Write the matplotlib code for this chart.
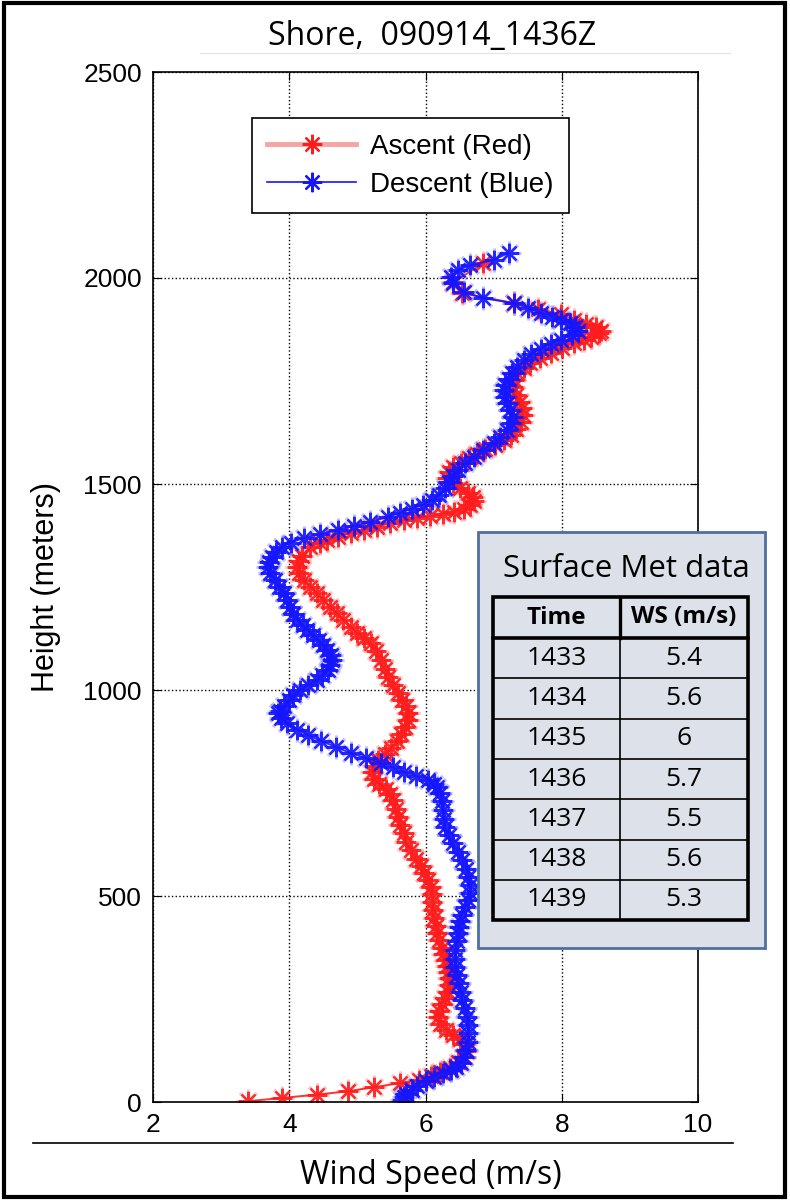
import matplotlib
matplotlib.use('Agg')
import matplotlib.pyplot as plt
from matplotlib.lines import Line2D
from matplotlib.patches import Rectangle

# ascent profile (red): wind speed m/s, height m
asc_ws = [3.40, 3.90, 4.41, 4.86, 5.25, 5.63, 5.90, 6.08, 6.22, 6.36, 6.48, 6.56, 6.60, 6.58, 6.50,
          6.40, 6.30, 6.22, 6.19, 6.20, 6.24, 6.28, 6.33, 6.35, 6.34, 6.33, 6.32, 6.30, 6.26, 6.24,
          6.20, 6.17, 6.15, 6.12, 6.11, 6.10, 6.10, 6.08, 6.04, 5.98, 5.93, 5.86, 5.78, 5.72, 5.68,
          5.63, 5.60, 5.56, 5.53, 5.48, 5.42, 5.32, 5.24, 5.22, 5.24, 5.30, 5.40, 5.50, 5.58, 5.64,
          5.70, 5.74, 5.75, 5.72, 5.66, 5.60, 5.52, 5.45, 5.40, 5.34, 5.28, 5.20, 5.10, 5.00, 4.90,
          4.79, 4.70, 4.60, 4.50, 4.41, 4.31, 4.21, 4.15, 4.12, 4.14, 4.18, 4.31, 4.45, 4.56, 4.72,
          4.90, 5.10, 5.29, 5.48, 5.68, 5.88, 6.07, 6.25, 6.42, 6.56, 6.66, 6.71, 6.69, 6.62, 6.51,
          6.40, 6.32, 6.34, 6.40, 6.52, 6.64, 6.75, 6.88, 7.02, 7.15, 7.25, 7.33, 7.40, 7.43, 7.42,
          7.38, 7.33, 7.29, 7.30, 7.35, 7.44, 7.54, 7.68, 7.84, 8.00, 8.18, 8.32, 8.43, 8.55, 8.57,
          8.50, 8.35, 8.18, 7.99, 7.65, 7.30, 6.54, 6.41, 6.85]
asc_h = [2, 10, 18, 26, 36, 46, 54, 62, 72, 83, 96, 110, 125, 140, 152,
         162, 175, 190, 206, 222, 238, 252, 268, 283, 300, 315, 330, 345, 360, 375,
         392, 410, 428, 447, 465, 485, 505, 522, 540, 556, 572, 590, 612, 632, 653,
         673, 692, 712, 733, 748, 760, 772, 784, 800, 815, 830, 845, 860, 876, 893,
         910, 927, 944, 960, 976, 992, 1012, 1032, 1052, 1073, 1094, 1114, 1126, 1138, 1154,
         1170, 1186, 1201, 1218, 1235, 1251, 1267, 1283, 1299, 1312, 1325, 1347, 1358, 1364, 1372,
         1381, 1389, 1396, 1405, 1413, 1418, 1422, 1428, 1433, 1440, 1448, 1458, 1468, 1478, 1490,
         1502, 1515, 1528, 1541, 1552, 1562, 1572, 1584, 1595, 1607, 1620, 1633, 1650, 1667, 1684,
         1700, 1717, 1735, 1752, 1769, 1782, 1794, 1806, 1818, 1830, 1842, 1850, 1857, 1866, 1872,
         1880, 1889, 1898, 1912, 1925, 1939, 1963, 1990, 2036]

# descent profile (blue), from the top down
des_ws = [7.22, 7.00, 6.66, 6.47, 6.37, 6.41, 6.56, 6.85, 7.30, 7.50, 7.69, 7.85, 7.99, 8.12, 8.20,
          8.24, 8.15, 7.99, 7.84, 7.69, 7.55, 7.45, 7.35, 7.27, 7.22, 7.17, 7.15, 7.17, 7.20, 7.24,
          7.28, 7.25, 7.20, 7.10, 7.00, 6.85, 6.71, 6.58, 6.47, 6.40, 6.34, 6.28, 6.20, 6.10, 5.97,
          5.80, 5.63, 5.45, 5.19, 4.95, 4.71, 4.45, 4.21, 4.02, 3.90, 3.80, 3.75, 3.70, 3.69, 3.72,
          3.79, 3.85, 3.92, 3.96, 4.01, 4.06, 4.12, 4.20, 4.26, 4.35, 4.43, 4.50, 4.56, 4.62, 4.63,
          4.60, 4.57, 4.48, 4.41, 4.28, 4.16, 4.05, 4.00, 3.92, 3.86, 3.84, 3.88, 3.97, 4.12, 4.28,
          4.46, 4.68, 4.90, 5.12, 5.34, 5.52, 5.68, 5.86, 6.03, 6.12, 6.17, 6.22, 6.24, 6.25, 6.27,
          6.29, 6.34, 6.40, 6.47, 6.54, 6.60, 6.63, 6.65, 6.66, 6.62, 6.58, 6.54, 6.50, 6.49, 6.48,
          6.46, 6.44, 6.44, 6.44, 6.46, 6.49, 6.52, 6.54, 6.58, 6.61, 6.63, 6.63, 6.62, 6.60, 6.56,
          6.52, 6.45, 6.37, 6.25, 6.12, 6.00, 5.88, 5.80, 5.72, 5.68, 5.66]
des_h = [2061, 2044, 2031, 2019, 2002, 1988, 1966, 1951, 1939, 1927, 1915, 1906, 1898, 1890, 1881,
         1872, 1862, 1850, 1840, 1828, 1815, 1800, 1785, 1770, 1755, 1740, 1728, 1712, 1697, 1680,
         1663, 1648, 1631, 1615, 1600, 1583, 1566, 1550, 1534, 1520, 1505, 1490, 1474, 1461, 1450,
         1440, 1430, 1420, 1408, 1398, 1388, 1378, 1369, 1358, 1347, 1335, 1323, 1310, 1299, 1285,
         1267, 1250, 1235, 1218, 1201, 1185, 1170, 1158, 1146, 1133, 1121, 1109, 1097, 1085, 1073,
         1060, 1049, 1036, 1024, 1012, 1000, 988, 976, 962, 950, 944, 932, 920, 904, 890,
         877, 862, 847, 835, 823, 812, 801, 791, 782, 773, 765, 750, 730, 709, 688,
         667, 648, 629, 608, 587, 566, 546, 526, 507, 490, 473, 455, 440, 425, 410,
         390, 369, 348, 328, 308, 289, 268, 248, 227, 206, 186, 167, 146, 126, 110,
         95, 86, 78, 70, 61, 52, 40, 30, 20, 12, 5]

met_time = ['1433', '1434', '1435', '1436', '1437', '1438', '1439']
met_ws = ['5.4', '5.6', '6', '5.7', '5.5', '5.6', '5.3']

RED = '#ff1c1c'
BLUE = '#1515ff'
STAR = (8, 2, 0)

fig = plt.figure(figsize=(7.9, 12.01), dpi=100)
ax = fig.add_axes([153 / 790, 99 / 1201, 545 / 790, 1030 / 1201])

# soft halo under each profile, then the profile itself
for ws, h, c in [(asc_ws, asc_h, RED), (des_ws, des_h, BLUE)]:
    ax.plot(ws, h, ls='none', marker=STAR, ms=17, mew=2.2, color=c, alpha=0.25)
    ax.plot(ws, h, color=c, lw=1.4, marker=STAR, ms=14, mew=1.5, alpha=0.9)

ax.set_xlim(2, 10)
ax.set_ylim(0, 2500)
ax.set_xticks([2, 4, 6, 8, 10])
ax.set_yticks([0, 500, 1000, 1500, 2000, 2500])
ax.grid(True, linestyle=':', color='k', lw=1.0)
ax.tick_params(direction='in', length=6, top=True, right=True, labelsize=19, pad=8)
for lab in ax.get_xticklabels() + ax.get_yticklabels():
    lab.set_family('Liberation Sans')
for s in ax.spines.values():
    s.set_linewidth(1.2)
ax.set_ylabel('Height (meters)', fontsize=22, family='Liberation Sans', labelpad=16)

handles = [
    Line2D([], [], color='#f4a4a4', lw=3.5, marker=STAR, ms=14, mew=1.6, mec=RED),
    Line2D([], [], color=BLUE, lw=1.2, marker=STAR, ms=14, mew=1.6, mec=BLUE),
]
leg = ax.legend(handles, ['Ascent (Red)', 'Descent (Blue)'], loc='upper left',
                bbox_to_anchor=(0.182, 0.955), borderaxespad=0, fancybox=False,
                framealpha=1, edgecolor='k', handlelength=3.2, handletextpad=0.5,
                borderpad=0.55, labelspacing=0.45,
                prop={'family': 'Liberation Sans', 'size': 20})
leg.get_frame().set_linewidth(1.2)

# overlay in pixel coordinates for title, frame and the met table
ov = fig.add_axes([0, 0, 1, 1], zorder=5)
ov.set_xlim(0, 790)
ov.set_ylim(1201, 0)
ov.axis('off')
ov.patch.set_alpha(0)

ov.add_patch(Rectangle((4, 3), 781, 1194, fill=False, lw=3, ec='k'))
ov.plot([200, 730], [53, 53], color='#e6e6e6', lw=1)
ov.plot([33, 733], [1143, 1143], color='k', lw=1.2)
ov.text(432, 37, 'Shore,  090914_1436Z', ha='center', va='center', fontsize=23,
        family='Open Sans')
ov.text(431, 1175, 'Wind Speed (m/s)', ha='center', va='center', fontsize=23,
        family='Open Sans')

ov.add_patch(Rectangle((478, 532), 287, 416, fc='#dbe0e9', ec='#4f6f9f', lw=2))
ov.text(626, 569, 'Surface Met data', ha='center', va='center', fontsize=22.5,
        family='Open Sans')

tl, tr, tc = 493, 748, 620
rows = [597, 638] + [638 + 40.3 * (i + 1) for i in range(len(met_time))]
ov.add_patch(Rectangle((tl, rows[0]), tr - tl, rows[-1] - rows[0], fc='#dde1ea',
                       ec='k', lw=2.6))
ov.plot([tl, tr], [rows[1], rows[1]], color='k', lw=2.6)
for y in rows[2:-1]:
    ov.plot([tl, tr], [y, y], color='k', lw=1.2)
ov.plot([tc, tc], [rows[0], rows[1]], color='k', lw=2.4)
ov.plot([tc, tc], [rows[1], rows[-1]], color='k', lw=1.2)
ov.text((tl + tc) / 2, (rows[0] + rows[1]) / 2, 'Time', ha='center', va='center',
        fontsize=17.5, fontweight='bold', family='Open Sans')
ov.text((tc + tr) / 2, (rows[0] + rows[1]) / 2, 'WS (m/s)', ha='center', va='center',
        fontsize=17.5, fontweight='bold', family='Open Sans')
for i, (t, w) in enumerate(zip(met_time, met_ws)):
    yc = (rows[i + 1] + rows[i + 2]) / 2
    ov.text((tl + tc) / 2, yc, t, ha='center', va='center', fontsize=19, family='Open Sans')
    ov.text((tc + tr) / 2, yc, w, ha='center', va='center', fontsize=19, family='Open Sans')

fig.savefig('out.png', dpi=100)
